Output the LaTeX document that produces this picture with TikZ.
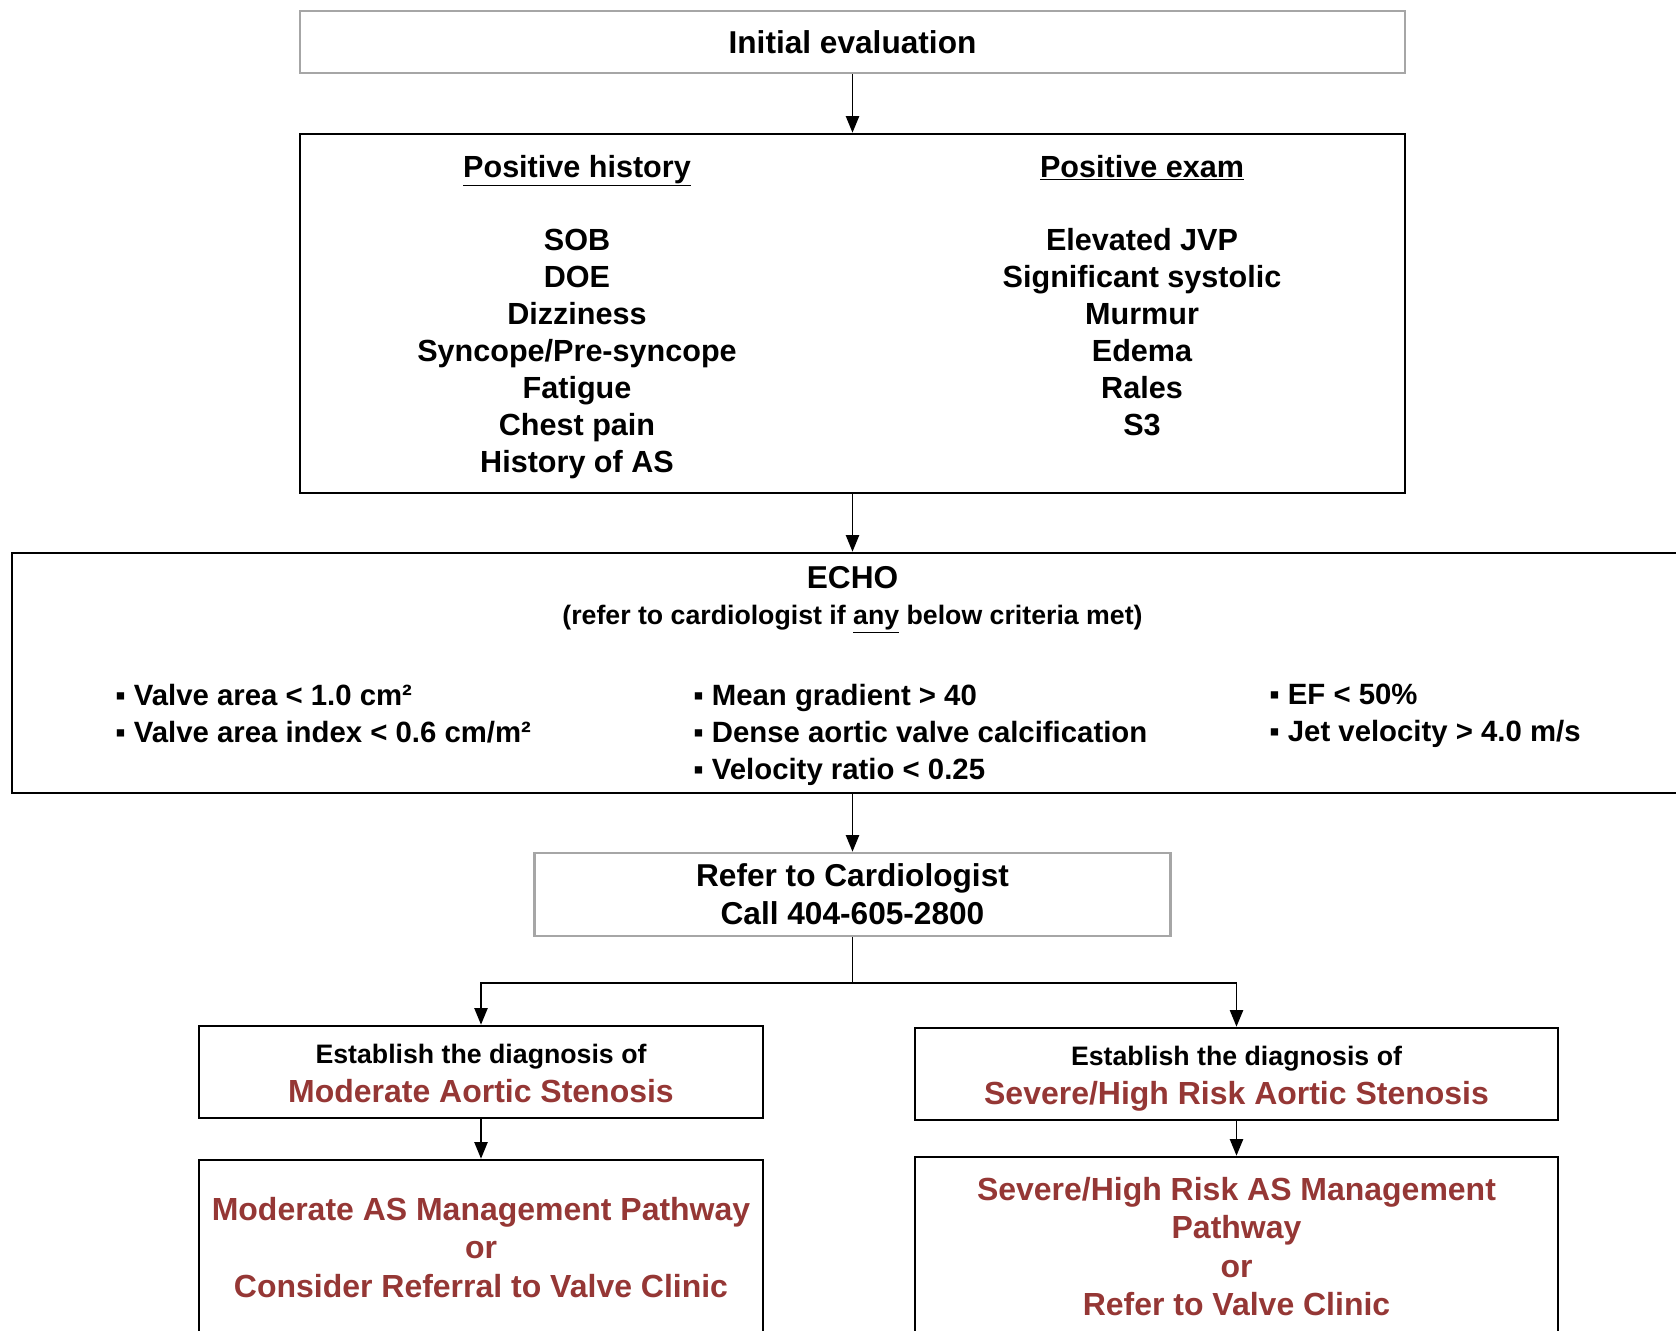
\documentclass[tikz,border=0pt]{standalone}
\usepackage{fontspec}
\setmainfont{Liberation Sans}
\usepackage[HTML]{xcolor}
\usetikzlibrary{positioning, arrows.meta}

\definecolor{asred}{HTML}{953735}
\definecolor{boxgray}{HTML}{A6A6A6}

\begin{document}
\begin{tikzpicture}[x=0.02cm, y=-0.02cm,
  box/.style={draw, line width=1.5pt, inner sep=0pt},
  graybox/.style={box, draw=boxgray},
  arr/.style={line width=1.1pt, -{Triangle[length=9.5pt, width=7.5pt]}},
  link/.style={line width=1.1pt},
  txt/.style={inner sep=0pt, align=center, font=\bfseries\fontsize{17.4}{21}\selectfont},
  bigtxt/.style={txt, font=\bfseries\fontsize{18}{21.5}\selectfont},
  redtxt/.style={txt, text=asred, font=\bfseries\fontsize{18.2}{21.8}\selectfont},
  smalltxt/.style={inner sep=0pt, align=center, font=\bfseries\fontsize{15.2}{17}\selectfont},
  crit/.style={inner sep=0pt, align=left, font=\bfseries\fontsize{16.7}{21}\selectfont}]

\useasboundingbox (0,0) rectangle (1676,1330);
\clip (0,0) rectangle (1676,1330);

% boxes
\node[graybox, bigtxt, minimum width=22.1cm, minimum height=1.24cm] (init) at (852.5,42) {Initial evaluation};
\node[box, minimum width=22.1cm, minimum height=7.18cm] (pos) at (852.5,313.5) {};
\node[box, minimum width=33.62cm, minimum height=4.8cm] (echo) at (852.5,673) {};
\node[graybox, bigtxt, minimum width=12.72cm, minimum height=1.66cm] (refer) at (852.5,894.5) {Refer to Cardiologist\\Call 404-605-2800};
\node[box, minimum width=11.28cm, minimum height=1.84cm] (diagL) at (481,1072) {};
\node[box, minimum width=12.86cm, minimum height=1.84cm] (diagR) at (1236.5,1074) {};
\node[box, minimum width=11.28cm, minimum height=4cm] (pathL) at (481,1260) {};
\node[box, minimum width=12.86cm, minimum height=4.06cm] (pathR) at (1236.5,1258.5) {};

% positive findings
\node[txt, anchor=base] (hishead) at (577,177) {\underline{Positive history}};
\node[txt, anchor=base] (exhead) at (1142,177) {\underline{Positive exam}};
\node[txt] (hislist) at (577,354) {SOB\\DOE\\Dizziness\\Syncope/Pre-syncope\\Fatigue\\Chest pain\\History of AS};
\node[txt] (exlist) at (1142,332) {Elevated JVP\\Significant systolic\\Murmur\\Edema\\Rales\\S3};

% echo criteria
\node[bigtxt] (echotitle) at (852.5,578) {ECHO};
\node[smalltxt] (echonote) at (852.5,619) {(refer to cardiologist if \underline{any} below criteria met)};
\node[crit, anchor=north west] (critA) at (115,684) {▪ Valve area < 1.0 cm²\\▪ Valve area index < 0.6 cm/m²};
\node[crit, anchor=north west] (critB) at (693,684) {▪ Mean gradient > 40\\▪ Dense aortic valve calcification\\▪ Velocity ratio < 0.25};
\node[crit, anchor=north west] (critC) at (1269,684) {▪ EF < 50\%\\▪ Jet velocity > 4.0 m/s};

% diagnosis
\node[smalltxt] (diagLtop) at (481,1057) {Establish the diagnosis of};
\node[redtxt] (diagLsub) at (481,1091) {Moderate Aortic Stenosis};
\node[smalltxt] (diagRtop) at (1236.5,1059) {Establish the diagnosis of};
\node[redtxt] (diagRsub) at (1236.5,1096) {Severe/High Risk Aortic Stenosis};

% pathways
\node[redtxt] (pathLtxt) at (481,1247.5) {Moderate AS Management Pathway\\or\\Consider Referral to Valve Clinic};
\node[redtxt] (pathRtxt) at (1236.5,1246.5) {Severe/High Risk AS Management\\Pathway\\or\\Refer to Valve Clinic};

% connectors
\coordinate (split) at (852.5,983);
\draw[arr] (init) -- (pos);
\draw[arr] (pos) -- (echo);
\draw[arr] (echo) -- (refer);
\draw[link] (refer) -- (split);
\draw[arr] (split) -| (diagL);
\draw[arr] (split) -| (diagR);
\draw[arr] (diagL) -- (pathL);
\draw[arr] (diagR) -- (pathR);
\end{tikzpicture}
\end{document}
